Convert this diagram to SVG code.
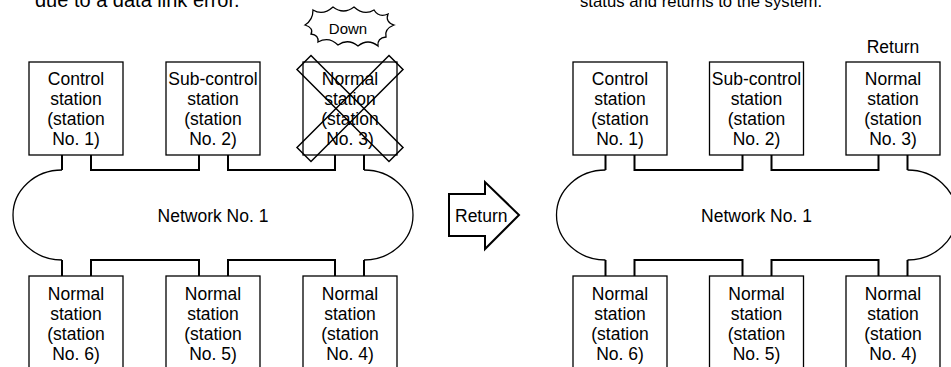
<svg xmlns="http://www.w3.org/2000/svg" width="951" height="367" viewBox="0 0 951 367">
<style>
text{font-family:"Liberation Sans",Arial,sans-serif;font-size:17.5px;fill:#000}
.c{text-anchor:middle}
.box{fill:#fff;stroke:#000;stroke-width:1.3}
.ln{fill:none;stroke:#000;stroke-width:2}
.cv{fill:none;stroke:#000;stroke-width:1.3}
.x{fill:none;stroke:#000;stroke-width:1.5}
</style>
<rect width="951" height="367" fill="#fff"/>
<text x="35" y="7" style="font-size:20px">due to a data link error.</text>
<text x="580" y="7" style="font-size:16.7px">status and returns to the system.</text>

<g id="connectors">
  <path class="ln" d="M62,155V170M91,155V170H199V155M228,155V170H335V155M364,155V170"/>
  <path class="ln" d="M62,276V260M91,276V260H199V276M228,276V260H335V276M364,276V260"/>
  <path class="ln" d="M605.5,155V170M634.5,155V170H742.5V155M771.5,155V170H878.5V155M907.5,155V170"/>
  <path class="ln" d="M605.5,276V260M634.5,276V260H742.5V276M771.5,276V260H878.5V276M907.5,276V260"/>
</g>

<g id="network-left">
  <path class="cv" d="M62,170A49,45 0 0 0 62,260"/>
  <path class="cv" d="M364,170A49,45 0 0 1 364,260"/>
  <text class="c" x="213" y="222">Network No. 1</text>
</g>
<g id="network-right">
  <path class="cv" d="M605.5,170A49,45 0 0 0 605.5,260"/>
  <path class="cv" d="M907.5,170A49,45 0 0 1 907.5,260"/>
  <text class="c" x="756.5" y="222">Network No. 1</text>
</g>

<g id="L1"><rect class="box" x="29" y="62" width="94" height="93"/>
<text class="c" x="76" y="85">Control</text><text class="c" x="76" y="105">station</text><text class="c" x="76" y="125">(station</text><text class="c" x="76" y="145">No. 1)</text></g>
<g id="L2"><rect class="box" x="166" y="62" width="94" height="93"/>
<text class="c" x="213" y="85">Sub-control</text><text class="c" x="213" y="105">station</text><text class="c" x="213" y="125">(station</text><text class="c" x="213" y="145">No. 2)</text></g>
<g id="L3"><rect class="box" x="303" y="62" width="94" height="93"/>
<text class="c" x="350" y="85">Normal</text><text class="c" x="350" y="105">station</text><text class="c" x="350" y="125">(station</text><text class="c" x="350" y="145">No. 3)</text>
<polygon class="x" points="311,55.5 403,147.5 389,161.5 297,69.5"/>
<polygon class="x" points="389,55.5 403,69.5 311,161.5 297,147.5"/></g>

<g id="down">
<path class="cv" d="M305,25Q313,20 313,10Q323,16 333,7Q343.5,15 354,7Q364,16 374,10Q379,18 388,14Q385,22 394,25Q384,29 386,37Q377,38 378,46Q368,38 358,46Q348,38 338,45Q329,36 318,42Q319,35 311,34Q314,28 305,25Z"/>
<text class="c" x="348" y="34" style="font-size:15px">Down</text></g>

<g id="L6"><rect class="box" x="29" y="276" width="94" height="93"/>
<text class="c" x="76" y="299.5">Normal</text><text class="c" x="76" y="319.5">station</text><text class="c" x="76" y="339.5">(station</text><text class="c" x="76" y="359.5">No. 6)</text></g>
<g id="L5"><rect class="box" x="166" y="276" width="94" height="93"/>
<text class="c" x="213" y="299.5">Normal</text><text class="c" x="213" y="319.5">station</text><text class="c" x="213" y="339.5">(station</text><text class="c" x="213" y="359.5">No. 5)</text></g>
<g id="L4"><rect class="box" x="303" y="276" width="94" height="93"/>
<text class="c" x="350" y="299.5">Normal</text><text class="c" x="350" y="319.5">station</text><text class="c" x="350" y="339.5">(station</text><text class="c" x="350" y="359.5">No. 4)</text></g>

<g id="return-arrow">
<polygon class="ln" points="449,194 485,194 485,182 519,215 485,249 485,236 449,236"/>
<text x="455" y="222">Return</text></g>

<g id="R1"><rect class="box" x="573" y="62" width="94" height="93"/>
<text class="c" x="620" y="85">Control</text><text class="c" x="620" y="105">station</text><text class="c" x="620" y="125">(station</text><text class="c" x="620" y="145">No. 1)</text></g>
<g id="R2"><rect class="box" x="709.5" y="62" width="94" height="93"/>
<text class="c" x="756.5" y="85">Sub-control</text><text class="c" x="756.5" y="105">station</text><text class="c" x="756.5" y="125">(station</text><text class="c" x="756.5" y="145">No. 2)</text></g>
<g id="R3"><rect class="box" x="846" y="62" width="94" height="93"/>
<text class="c" x="893" y="85">Normal</text><text class="c" x="893" y="105">station</text><text class="c" x="893" y="125">(station</text><text class="c" x="893" y="145">No. 3)</text></g>
<text class="c" x="893" y="53">Return</text>

<g id="R6"><rect class="box" x="573" y="276" width="94" height="93"/>
<text class="c" x="620" y="299.5">Normal</text><text class="c" x="620" y="319.5">station</text><text class="c" x="620" y="339.5">(station</text><text class="c" x="620" y="359.5">No. 6)</text></g>
<g id="R5"><rect class="box" x="709.5" y="276" width="94" height="93"/>
<text class="c" x="756.5" y="299.5">Normal</text><text class="c" x="756.5" y="319.5">station</text><text class="c" x="756.5" y="339.5">(station</text><text class="c" x="756.5" y="359.5">No. 5)</text></g>
<g id="R4"><rect class="box" x="846" y="276" width="94" height="93"/>
<text class="c" x="893" y="299.5">Normal</text><text class="c" x="893" y="319.5">station</text><text class="c" x="893" y="339.5">(station</text><text class="c" x="893" y="359.5">No. 4)</text></g>
</svg>
